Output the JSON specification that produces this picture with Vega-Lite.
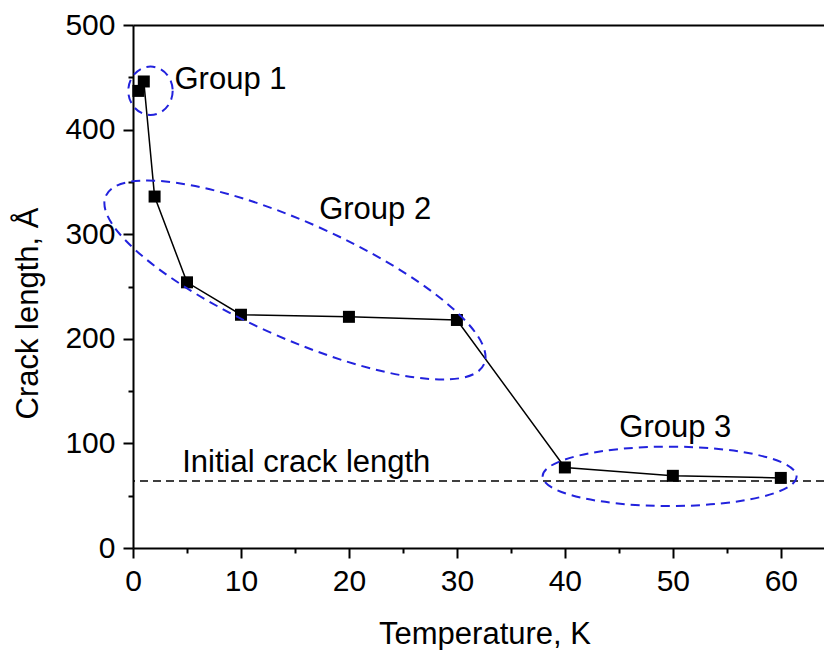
{
  "$schema": "https://vega.github.io/schema/vega-lite/v6.json",
  "width": 691,
  "height": 523,
  "autosize": {"type": "none"},
  "padding": {"left": 133, "top": 25, "right": 0, "bottom": 102},
  "config": {
    "view": {"stroke": null},
    "font": "Liberation Sans",
    "axis": {
      "grid": false,
      "domainColor": "black",
      "tickColor": "black",
      "labelColor": "black",
      "titleColor": "black",
      "labelFont": "Liberation Sans",
      "titleFont": "Liberation Sans",
      "labelFontSize": 30,
      "titleFontSize": 31,
      "titleFontWeight": "normal",
      "domainWidth": 2,
      "tickWidth": 2,
      "labelFlush": false,
      "labelOverlap": false
    }
  },
  "datasets": {
    "crack": [
      {"T": 0.5, "L": 437},
      {"T": 1, "L": 446},
      {"T": 2, "L": 336},
      {"T": 5, "L": 254},
      {"T": 10, "L": 223},
      {"T": 20, "L": 221},
      {"T": 30, "L": 218},
      {"T": 40, "L": 77},
      {"T": 50, "L": 69},
      {"T": 60, "L": 67}
    ],
    "initial": [{"L": 64}],
    "groups": [
      {"name": "Group 1", "T": 1.62, "L": 437.1},
      {"name": "Group 2", "T": 15.0, "L": 256.2},
      {"name": "Group 3", "T": 49.7, "L": 68.5}
    ],
    "labels": [
      {"text": "Group 1", "T": 9.03, "L": 438.5},
      {"text": "Group 2", "T": 22.43, "L": 314.9},
      {"text": "Group 3", "T": 50.23, "L": 106.4},
      {"text": "Initial crack length", "T": 16.05, "L": 72.9}
    ]
  },
  "resolve": {"axis": {"x": "independent", "y": "independent"}},
  "layer": [
    {
      "data": {"name": "crack"},
      "mark": {"type": "line", "color": "black", "strokeWidth": 1.5},
      "encoding": {
        "x": {
          "field": "T", "type": "quantitative",
          "scale": {"domain": [0, 64], "nice": false, "zero": false},
          "axis": {
            "orient": "bottom",
            "values": [0, 10, 20, 30, 40, 50, 60],
            "tickSize": 10,
            "labelPadding": 8,
            "title": "Temperature, K",
            "titleX": 351.5,
            "titleY": 95,
            "titleBaseline": "alphabetic",
            "titleAlign": "center"
          }
        },
        "y": {
          "field": "L", "type": "quantitative",
          "scale": {"domain": [0, 500], "nice": false},
          "axis": {
            "orient": "left",
            "values": [0, 100, 200, 300, 400, 500],
            "tickSize": 10,
            "labelPadding": 8,
            "title": "Crack length, Å",
            "titleX": -96,
            "titleY": 288,
            "titleAngle": -90,
            "titleBaseline": "alphabetic",
            "titleAlign": "center"
          }
        }
      }
    },
    {
      "data": {"name": "crack"},
      "mark": {"type": "point", "shape": "square", "size": 144, "filled": true, "color": "black", "opacity": 1},
      "encoding": {
        "x": {
          "field": "T", "type": "quantitative",
          "axis": {"orient": "bottom", "values": [5, 15, 25, 35, 45, 55], "tickSize": 5, "labels": false, "domain": false, "title": null}
        },
        "y": {
          "field": "L", "type": "quantitative",
          "axis": {"orient": "left", "values": [50, 150, 250, 350, 450], "tickSize": 5, "labels": false, "domain": false, "title": null}
        }
      }
    },
    {
      "data": {"name": "initial"},
      "mark": {"type": "rule", "color": "black", "strokeWidth": 1.5, "strokeDash": [8, 5]},
      "encoding": {
        "y": {"field": "L", "type": "quantitative", "axis": null}
      }
    },
    {
      "data": {"name": "groups"},
      "transform": [{"filter": {"field": "name", "equal": "Group 1"}}],
      "mark": {
        "type": "point",
        "shape": "M 1 0 C 1 0.602 0.5523 1.09 0 1.09 C -0.5523 1.09 -1 0.602 -1 0 C -1 -0.602 -0.5523 -1.09 0 -1.09 C 0.5523 -1.09 1 -0.602 1 0 Z",
        "size": 1971,
        "filled": false,
        "stroke": "#2222dd",
        "strokeWidth": 2,
        "strokeDash": [9, 6],
        "opacity": 1
      },
      "encoding": {
        "x": {"field": "T", "type": "quantitative", "axis": {"orient": "top", "ticks": false, "labels": false, "title": null, "domain": true}},
        "y": {"field": "L", "type": "quantitative", "axis": null}
      }
    },
    {
      "data": {"name": "groups"},
      "transform": [{"filter": {"field": "name", "equal": "Group 2"}}],
      "mark": {
        "type": "point",
        "shape": "M 1 0 C 1 0.1547 0.5523 0.28 0 0.28 C -0.5523 0.28 -1 0.1547 -1 0 C -1 -0.1547 -0.5523 -0.28 0 -0.28 C 0.5523 -0.28 1 -0.1547 1 0 Z",
        "size": 171396,
        "angle": 24,
        "filled": false,
        "stroke": "#2222dd",
        "strokeWidth": 2,
        "strokeDash": [9, 6],
        "opacity": 1
      },
      "encoding": {
        "x": {"field": "T", "type": "quantitative", "axis": null},
        "y": {"field": "L", "type": "quantitative", "axis": null}
      }
    },
    {
      "data": {"name": "groups"},
      "transform": [{"filter": {"field": "name", "equal": "Group 3"}}],
      "mark": {
        "type": "point",
        "shape": "M 1 0 C 1 0.1292 0.5523 0.234 0 0.234 C -0.5523 0.234 -1 0.1292 -1 0 C -1 -0.1292 -0.5523 -0.234 0 -0.234 C 0.5523 -0.234 1 -0.1292 1 0 Z",
        "size": 64516,
        "filled": false,
        "stroke": "#2222dd",
        "strokeWidth": 2,
        "strokeDash": [9, 6],
        "opacity": 1
      },
      "encoding": {
        "x": {"field": "T", "type": "quantitative", "axis": null},
        "y": {"field": "L", "type": "quantitative", "axis": null}
      }
    },
    {
      "data": {"name": "labels"},
      "mark": {"type": "text", "font": "Liberation Sans", "fontSize": 31, "align": "center", "baseline": "alphabetic", "color": "black"},
      "encoding": {
        "x": {"field": "T", "type": "quantitative", "axis": null},
        "y": {"field": "L", "type": "quantitative", "axis": null},
        "text": {"field": "text"}
      }
    }
  ]
}
